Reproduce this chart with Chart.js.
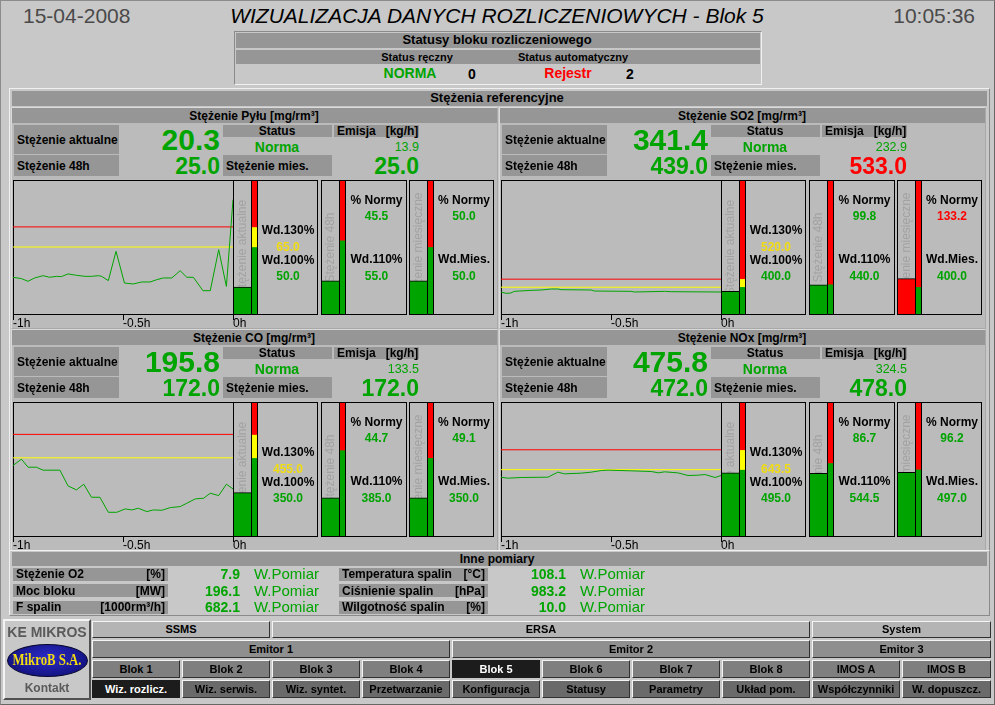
<!DOCTYPE html>
<html>
<head>
<meta charset="utf-8">
<script src="https://cdn.jsdelivr.net/npm/chart.js@4.4.1/dist/chart.umd.min.js"></script>
<style>
body { margin: 0; width: 995px; height: 705px; background: #c8c8c8; position: relative; overflow: hidden;
       font-family: Arial, "Liberation Sans", sans-serif; }
.abs { position: absolute; box-sizing: border-box; }
.txt { position: absolute; white-space: pre; height: 40px; line-height: 40px; }
.btn { position: absolute; box-sizing: border-box; border: 1px solid; border-color: #f4f4f4 #303030 #303030 #f4f4f4;
       font-weight: bold; font-size: 11px; text-align: center; line-height: 15px; color: #000; }
</style>
</head>
<body>
<script>
// os czasu wykresow trendu (minuty)
const osCzasu = [-60, -30, 0];
const etykietyCzasu = ['-1h', '-0.5h', '0h'];

const nazwy = ['Stężenie Pyłu [mg/rm³]', 'Stężenie SO2 [mg/rm³]', 'Stężenie CO [mg/rm³]', 'Stężenie NOx [mg/rm³]'];
const statusy = ['Norma', 'Norma', 'Norma', 'Norma'];
const stezenieAktualne = [20.3, 341.4, 195.8, 475.8];
const stezenie48h = [25.0, 439.0, 172.0, 472.0];
const stezenieMies = [25.0, 533.0, 172.0, 478.0];
const emisja = [13.9, 232.9, 133.5, 324.5];
const wd100 = [50.0, 400.0, 350.0, 495.0];
const wd130 = [65.0, 520.0, 455.0, 643.5];
const wd110 = [55.0, 440.0, 385.0, 544.5];
const wdMies = [50.0, 400.0, 350.0, 497.0];
const procentNormy48h = [45.5, 99.8, 44.7, 86.7];
const procentNormyMies = [50.0, 133.2, 49.1, 96.2];
const skalaMax = [100, 2000, 600, 1000];

// trendy z ostatniej godziny
const czasPyl = [-60, -57.7, -55.9, -54.1, -51.8, -50, -48.1, -46.8, -45, -42.7, -40.4, -38.6, -36.7, -35.8, -34, -31.9,
                 -29.6, -27.2, -24.9, -22.6, -20.8, -19, -16.7, -14.4, -12.6, -10.8, -8.2, -6.2, -3.9, -1.8, 0];
const trendPyl = [27.4, 26.4, 24.4, 26.9, 28.6, 27.4, 28.1, 27.9, 29.9, 28.9, 28.1, 28.1, 28.6, 28.1, 24.9, 46.8,
                  23.1, 22.4, 23.9, 23.9, 25.6, 26.9, 26.9, 32.3, 27.4, 27.4, 17.4, 17.4, 48.0, 20.6, 85.3];
const czasSO2 = [-60, -58.6, -57.3, -56.4, -51.8, -49.1, -46.3, -44.5, -43.6, -35.4, -34.5, -24.5, -23.6, -15.4, -13.6, 0];
const trendSO2 = [328, 308, 313, 338, 353, 358, 373, 373, 363, 358, 343, 338, 328, 338, 333, 328];
const czasCO = [-60, -57.7, -55.9, -53.6, -51.8, -47.2, -45.0, -42.7, -40.7, -38.6, -36.3, -34.0, -31.7, -29.4,
                -27.6, -25.8, -23.5, -21.7, -19.4, -17.1, -14.4, -12.6, -10.3, -8.0, -6.2, -3.9, -1.8, 0];
const trendCO = [315.7, 344, 308, 308, 294.7, 294.7, 224.4, 206.4, 231.9, 173.5, 173.5, 106.2, 106.2, 121.2,
                 116.7, 124.2, 109.2, 116.7, 115.2, 127.2, 131.6, 146.6, 166.1, 169.1, 191.5, 181, 231.9, 210.9];
const czasNOx = [-60, -58.2, -54.5, -47.2, -44.5, -42.7, -38.1, -35.4, -32.6, -30.8, -24.5, -19.0, -17.1, -15.4,
                 -11.8, -9.0, -6.2, -4.4, -1.6, 0];
const trendNOx = [438.9, 431.5, 436.5, 438.9, 476.4, 463.9, 468.9, 476.4, 488.8, 491.3, 486.3, 481.3, 471.4, 478.8,
                  471.4, 451.4, 453.9, 458.9, 436.5, 451.4];
const czasy = [czasPyl, czasSO2, czasCO, czasNOx];
const trendy = [trendPyl, trendSO2, trendCO, trendNOx];

// inne pomiary
const innePomiaryNazwy = ['Stężenie O2', 'Moc bloku', 'F spalin', 'Temperatura spalin', 'Ciśnienie spalin', 'Wilgotność spalin'];
const innePomiaryJednostki = ['[%]', '[MW]', '[1000rm³/h]', '[°C]', '[hPa]', '[%]'];
const innePomiaryWartosci = [7.9, 196.1, 682.1, 108.1, 983.2, 10.0];

// menu
const menuRzad1 = ['SSMS', 'ERSA', 'System'];
const menuRzad2 = ['Emitor 1', 'Emitor 2', 'Emitor 3'];
const menuRzad3 = ['Blok 1', 'Blok 2', 'Blok 3', 'Blok 4', 'Blok 5', 'Blok 6', 'Blok 7', 'Blok 8', 'IMOS A', 'IMOS B'];
const menuRzad4 = ['Wiz. rozlicz.', 'Wiz. serwis.', 'Wiz. syntet.', 'Przetwarzanie', 'Konfiguracja', 'Statusy',
                   'Parametry', 'Układ pom.', 'Współczynniki', 'W. dopuszcz.'];

const ZIELONY = '#00a400';
const CZERWONY = '#ff0000';
const ZOLTY = '#ffff00';

Chart.defaults.font.family = 'Arial, "Liberation Sans", sans-serif';
Chart.defaults.animation = false;
Chart.defaults.responsive = false;
Chart.defaults.plugins.legend.display = false;
Chart.defaults.plugins.tooltip.enabled = false;

function box(rodzic, x, y, w, h, css) {
    const d = document.createElement('div');
    d.className = 'abs';
    d.style.cssText = `left:${x}px;top:${y}px;width:${w}px;height:${h}px;` + (css || '');
    rodzic.appendChild(d);
    return d;
}

function napis(rodzic, tekst, x, y, css, wyr) {
    const d = document.createElement('div');
    d.className = 'txt';
    d.textContent = tekst;
    d.style.cssText = (css || '') + `top:${y - 20}px;`;
    if (wyr === 'r') {
        d.style.left = (x - 600) + 'px'; d.style.width = '600px'; d.style.textAlign = 'right';
    } else if (wyr === 'c') {
        d.style.left = (x - 500) + 'px'; d.style.width = '1000px'; d.style.textAlign = 'center';
    } else {
        d.style.left = x + 'px';
    }
    rodzic.appendChild(d);
    return d;
}

function plotno(rodzic, x, y, w, h) {
    const c = document.createElement('canvas');
    c.width = w; c.height = h;
    c.style.cssText = `position:absolute;left:${x}px;top:${y}px;width:${w}px;height:${h}px;`;
    rodzic.appendChild(c);
    return c.getContext('2d');
}

const body = document.body;
const B12 = 'font-weight:bold;font-size:12px;color:#000;';

// ramka okna
box(body, 0, 0, 995, 705, 'border:1px solid #8c8c8c;border-right-color:#666;border-bottom-color:#666;');

// naglowek
napis(body, '15-04-2008', 23, 16, 'font-size:21px;color:#4a4a4a;', 'l');
napis(body, 'WIZUALIZACJA DANYCH ROZLICZENIOWYCH - Blok 5', 497, 16, 'font-size:21px;font-style:italic;color:#000;', 'c');
napis(body, '10:05:36', 975, 16, 'font-size:21px;color:#4a4a4a;', 'r');

// statusy bloku
box(body, 234, 31, 528, 54, 'border:1px solid;border-color:#8a8a8a #f0f0f0 #f0f0f0 #8a8a8a;');
box(body, 236, 33, 524, 15, 'background:#969696;');
napis(body, 'Statusy bloku rozliczeniowego', 497, 40, 'font-weight:bold;font-size:13px;', 'c');
box(body, 236, 50, 524, 14, 'background:#969696;');
napis(body, 'Status ręczny', 417, 57, 'font-weight:bold;font-size:11px;', 'c');
napis(body, 'Status automatyczny', 573, 57, 'font-weight:bold;font-size:11px;', 'c');
napis(body, 'NORMA', 410, 73, `font-weight:bold;font-size:14px;color:${ZIELONY};`, 'c');
napis(body, '0', 472, 74, 'font-weight:bold;font-size:14px;', 'c');
napis(body, 'Rejestr', 568, 73, `font-weight:bold;font-size:14px;color:${CZERWONY};`, 'c');
napis(body, '2', 630, 74, 'font-weight:bold;font-size:14px;', 'c');

// panel stezen
box(body, 9, 88, 981, 463, 'border:1px solid;border-color:#f0f0f0 #8a8a8a #8a8a8a #f0f0f0;');
box(body, 12, 91, 975, 15, 'background:#969696;');
napis(body, 'Stężenia referencyjne', 497, 98, 'font-weight:bold;font-size:13px;', 'c');

function wykresTrendu(i, ox, oy) {
    const ctx = plotno(body, 13 + ox, 180 + oy, 240, 155);
    const linia = (wartosc, kolor) => ({
        data: [{ x: osCzasu[0], y: wartosc }, { x: osCzasu[2], y: wartosc }],
        borderColor: kolor, borderWidth: 1, pointRadius: 0
    });
    new Chart(ctx, {
        type: 'line',
        data: {
            datasets: [
                {
                    data: czasy[i].map((t, k) => ({ x: t, y: trendy[i][k] })),
                    borderColor: ZIELONY, borderWidth: 1, pointRadius: 0, tension: 0
                },
                linia(wd130[i], CZERWONY),
                linia(wd100[i], ZOLTY)
            ]
        },
        options: {
            layout: { padding: { left: 0, right: 20, top: 0, bottom: 0 } },
            scales: {
                x: {
                    type: 'linear', min: -60, max: 0,
                    afterBuildTicks: a => { a.ticks = osCzasu.map(v => ({ value: v })); },
                    afterFit: a => { a.height = 21; },
                    ticks: {
                        callback: v => etykietyCzasu[osCzasu.indexOf(v)],
                        align: 'start', maxRotation: 0, autoSkip: false,
                        color: '#000', font: { size: 12 }, padding: -4
                    },
                    grid: { drawOnChartArea: false, color: '#000', tickLength: 6 },
                    border: { color: '#000' }
                },
                y: {
                    min: 0, max: skalaMax[i],
                    ticks: { display: false },
                    grid: { display: false, drawTicks: false },
                    border: { color: '#000' }
                }
            }
        }
    });
    box(body, 13 + ox, 180 + oy, 221, 1, 'background:#000;');
}

function wskaznik(ox, oy, L, R, wartosc, max, progi, kolory, podpis, linie, kolorPrzekroczenia) {
    const g = box(body, L + ox, 180 + oy, R - L + 1, 135, 'border:1px solid #000;');
    const rot = box(g, -58, 58, 133, 17, 'transform:rotate(-90deg);text-align:center;line-height:17px;font-size:12px;color:#a2a2a2;white-space:nowrap;overflow:hidden;');
    rot.textContent = podpis;

    // slupek wartosci
    const ctx = plotno(g, 0, 0, 17, 133);
    new Chart(ctx, {
        type: 'bar',
        data: {
            labels: [''],
            datasets: [{
                data: [wartosc],
                backgroundColor: wartosc > progi[0] ? kolorPrzekroczenia : ZIELONY,
                borderColor: '#000', borderWidth: { top: 1, left: 0, right: 0, bottom: 0 },
                barPercentage: 1, categoryPercentage: 1
            }]
        },
        options: {
            layout: { padding: 0 },
            scales: { x: { display: false }, y: { display: false, min: 0, max: max } }
        }
    });

    // skala progow
    const s = box(g, 17, 0, 7, 133, 'border-left:1px solid #000;border-right:1px solid #000;');
    const ctx2 = plotno(s, 0, 0, 5, 133);
    const granice = [0].concat(progi, [max]);
    new Chart(ctx2, {
        type: 'bar',
        data: {
            labels: [''],
            datasets: kolory.map((k, n) => ({
                data: [[granice[n], granice[n + 1]]],
                backgroundColor: k, borderWidth: 0,
                barPercentage: 1, categoryPercentage: 1, grouped: false
            }))
        },
        options: {
            layout: { padding: 0 },
            scales: { x: { display: false }, y: { display: false, min: 0, max: max } }
        }
    });

    const cx = (R - L + 24) / 2;
    linie.forEach(l => napis(g, l[0], cx, l[1] - 181, `font-weight:bold;font-size:12px;color:${l[2]};`, 'c'));
}

function kwadrant(i, ox, oy) {
    box(body, 11 + ox, 107 + oy, 487, 222, 'background:#bbbbbb;border:1px solid;border-color:#dadada #a8a8a8 #a8a8a8 #dadada;');
    box(body, 12 + ox, 108 + oy, 485, 15, 'background:#969696;');
    napis(body, nazwy[i], 254 + ox, 116 + oy, B12, 'c');

    box(body, 14 + ox, 125 + oy, 105, 29, 'background:#969696;');
    napis(body, 'Stężenie aktualne', 17 + ox, 140 + oy, B12, 'l');
    box(body, 14 + ox, 155 + oy, 105, 21, 'background:#969696;');
    napis(body, 'Stężenie 48h', 17 + ox, 166 + oy, B12, 'l');
    napis(body, stezenieAktualne[i].toFixed(1), 220 + ox, 140 + oy, `font-weight:bold;font-size:30px;color:${ZIELONY};`, 'r');
    napis(body, stezenie48h[i].toFixed(1), 220 + ox, 166 + oy, `font-weight:bold;font-size:23px;color:${ZIELONY};`, 'r');

    box(body, 223 + ox, 125 + oy, 109, 12, 'background:#969696;');
    napis(body, 'Status', 277 + ox, 131 + oy, B12, 'c');
    napis(body, statusy[i], 277 + ox, 147 + oy, `font-weight:bold;font-size:14px;color:${ZIELONY};`, 'c');
    box(body, 334 + ox, 125 + oy, 85, 12, 'background:#969696;');
    napis(body, 'Emisja   [kg/h]', 337 + ox, 131 + oy, B12, 'l');
    napis(body, emisja[i].toFixed(1), 419 + ox, 147 + oy, `font-size:12.5px;color:${ZIELONY};`, 'r');
    box(body, 223 + ox, 155 + oy, 109, 21, 'background:#969696;');
    napis(body, 'Stężenie mies.', 226 + ox, 166 + oy, B12, 'l');
    const miesKolor = stezenieMies[i] > wdMies[i] ? CZERWONY : ZIELONY;
    napis(body, stezenieMies[i].toFixed(1), 419 + ox, 166 + oy, `font-weight:bold;font-size:23px;color:${miesKolor};`, 'r');

    wykresTrendu(i, ox, oy);

    const zolty = '#f0dc10';
    wskaznik(ox, oy, 233, 317, stezenieAktualne[i], skalaMax[i], [wd100[i], wd130[i]], [ZIELONY, ZOLTY, CZERWONY],
        'Stężenie aktualne',
        [['Wd.130%', 230, '#000'], [wd130[i].toFixed(1), 247, zolty], ['Wd.100%', 260, '#000'], [wd100[i].toFixed(1), 276, ZIELONY]],
        ZOLTY);
    wskaznik(ox, oy, 321, 406, stezenie48h[i], skalaMax[i], [wd110[i]], [ZIELONY, CZERWONY],
        'Stężenie 48h',
        [['% Normy', 200, '#000'], [procentNormy48h[i].toFixed(1), 216, procentNormy48h[i] > 100 ? CZERWONY : ZIELONY],
         ['Wd.110%', 259, '#000'], [wd110[i].toFixed(1), 276, ZIELONY]],
        CZERWONY);
    wskaznik(ox, oy, 409, 493, stezenieMies[i], skalaMax[i], [wdMies[i]], [ZIELONY, CZERWONY],
        'Stężenie miesięczne',
        [['% Normy', 200, '#000'], [procentNormyMies[i].toFixed(1), 216, procentNormyMies[i] > 100 ? CZERWONY : ZIELONY],
         ['Wd.Mies.', 259, '#000'], [wdMies[i].toFixed(1), 276, ZIELONY]],
        CZERWONY);
}

kwadrant(0, 0, 0);
kwadrant(1, 488, 0);
kwadrant(2, 0, 222);
kwadrant(3, 488, 222);

// inne pomiary
box(body, 9, 550, 981, 66, 'border:1px solid;border-color:#f0f0f0 #8a8a8a #8a8a8a #f0f0f0;');
box(body, 12, 552, 975, 14, 'background:#969696;');
napis(body, 'Inne pomiary', 497, 559, B12, 'c');
innePomiaryNazwy.forEach((n, k) => {
    const kol = k < 3 ? 0 : 1;
    const y = 574 + (k % 3) * 16.5;
    const x0 = kol ? 339 : 13;
    const x1 = kol ? 488 : 168;
    box(body, x0, Math.round(y - 6.5), x1 - x0, 13, 'background:#969696;');
    napis(body, n, x0 + 3, y, B12, 'l');
    napis(body, innePomiaryJednostki[k], x1 - 3, y, B12, 'r');
    napis(body, innePomiaryWartosci[k].toFixed(1), kol ? 566 : 240, y, `font-weight:bold;font-size:14px;color:${ZIELONY};`, 'r');
    napis(body, 'W.Pomiar', kol ? 580 : 254, y, `font-size:15px;color:${ZIELONY};`, 'l');
});

// logo
box(body, 3, 619, 88, 81, 'border:2px solid;border-color:#f4f4f4 #505050 #505050 #f4f4f4;');
napis(body, 'KE MIKROS', 47, 632, 'font-weight:bold;font-size:14px;color:#5a5a5a;', 'c');
const logo = box(body, 7, 644, 81, 33, 'border-radius:50%;background:radial-gradient(ellipse at 50% 40%, #2a2ac8, #0c0c6a);border:1px solid #050530;');
napis(logo, 'MikroB S.A.', 39, 15, 'font-weight:bold;font-size:16px;font-family:"Liberation Serif",serif;color:#f2dc10;transform:scaleX(0.8);', 'c');
napis(body, 'Kontakt', 47, 688, 'font-weight:bold;font-size:12px;color:#5a5a5a;', 'c');

// przyciski menu
function przycisk(tekst, x, y, w, h, tlo, aktywny) {
    const b = box(body, x, y, w, h, `background:${aktywny ? '#1c1c1c' : tlo};color:${aktywny ? '#fff' : '#000'};line-height:${h - 2}px;`);
    b.className = 'btn';
    if (aktywny) b.style.borderColor = '#1c1c1c';
    b.textContent = tekst;
}
przycisk(menuRzad1[0], 92, 621, 178, 17, '#b4b4b4');
przycisk(menuRzad1[1], 272, 621, 538, 17, '#b4b4b4');
przycisk(menuRzad1[2], 812, 621, 179, 17, '#b4b4b4');
przycisk(menuRzad2[0], 92, 640, 358, 18, '#8f8f8f');
przycisk(menuRzad2[1], 452, 640, 358, 18, '#8f8f8f');
przycisk(menuRzad2[2], 812, 640, 179, 18, '#8f8f8f');
menuRzad3.forEach((t, k) => przycisk(t, 92 + k * 90, 660, k === 9 ? 89 : 88, 18, '#7f7f7f', t === 'Blok 5'));
menuRzad4.forEach((t, k) => przycisk(t, 92 + k * 90, 680, k === 9 ? 89 : 88, 18, '#6a6a6a', k === 0));
</script>
</body>
</html>
